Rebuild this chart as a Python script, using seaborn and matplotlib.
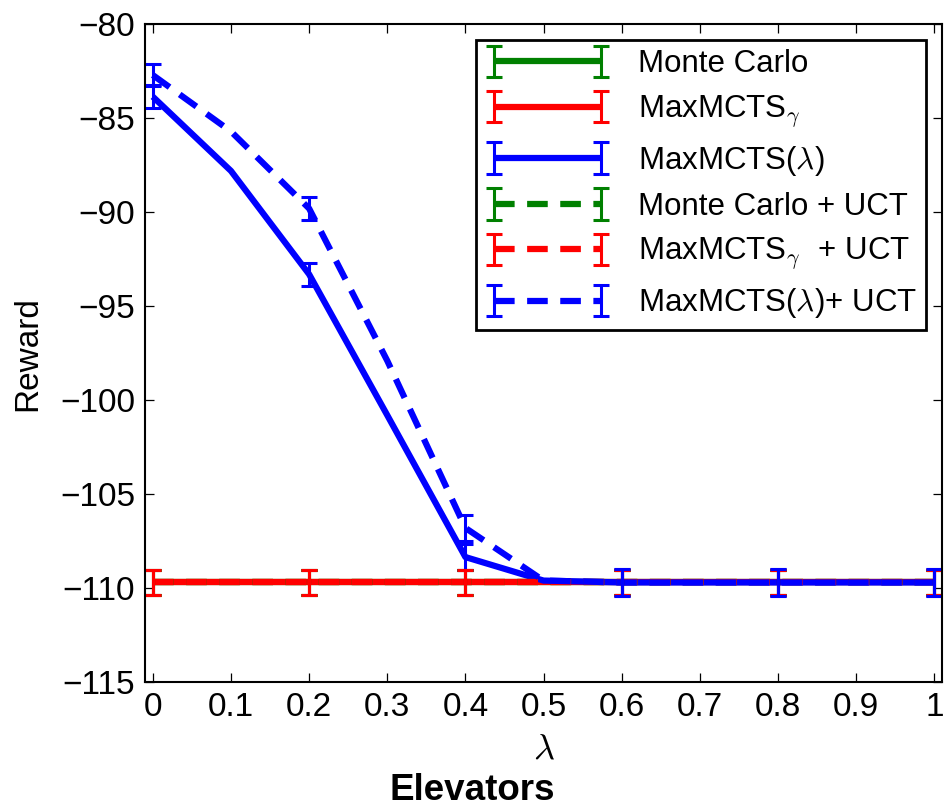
import matplotlib
matplotlib.use("Agg")
import matplotlib.pyplot as plt
from matplotlib.legend_handler import HandlerTuple
import pandas as pd
import seaborn as sns

# lambda grid and its tick labels
lam = [0.0, 0.1, 0.2, 0.3, 0.4, 0.5, 0.6, 0.7, 0.8, 0.9, 1.0]
xtick_labels = ["0", "0.1", "0.2", "0.3", "0.4", "0.5", "0.6", "0.7", "0.8", "0.9", "1"]
ytick_values = [-115, -110, -105, -100, -95, -90, -85, -80]

series_names = [
    "Monte Carlo",
    r"MaxMCTS$_\gamma$",
    r"MaxMCTS($\lambda$)",
    "Monte Carlo + UCT",
    r"MaxMCTS$_\gamma$  + UCT",
    r"MaxMCTS($\lambda$)+ UCT",
]
series_colors = ["#008000", "#ff0000", "#0000ff", "#008000", "#ff0000", "#0000ff"]
series_uct = ["plain", "plain", "plain", "uct", "uct", "uct"]

# mean reward per lambda
monte_carlo = [-109.7, -109.7, -109.7, -109.7, -109.7, -109.7, -109.7, -109.7, -109.7, -109.7, -109.7]
maxmcts_gamma = [-109.7, -109.7, -109.7, -109.7, -109.7, -109.7, -109.7, -109.7, -109.7, -109.7, -109.7]
maxmcts_lambda = [-83.85, -87.8, -93.3, -100.8, -108.35, -109.6, -109.7, -109.7, -109.7, -109.7, -109.7]
monte_carlo_uct = [-109.7, -109.7, -109.7, -109.7, -109.7, -109.7, -109.7, -109.7, -109.7, -109.7, -109.7]
maxmcts_gamma_uct = [-109.7, -109.7, -109.7, -109.7, -109.7, -109.7, -109.7, -109.7, -109.7, -109.7, -109.7]
maxmcts_lambda_uct = [-82.7, -85.7, -89.8, -97.9, -106.8, -109.6, -109.7, -109.7, -109.7, -109.7, -109.7]

# standard error per lambda
monte_carlo_err = [0.68, 0.68, 0.68, 0.68, 0.68, 0.68, 0.68, 0.68, 0.68, 0.68, 0.68]
maxmcts_gamma_err = [0.68, 0.68, 0.68, 0.68, 0.68, 0.68, 0.68, 0.68, 0.68, 0.68, 0.68]
maxmcts_lambda_err = [0.61, 0.6, 0.61, 0.65, 0.68, 0.7, 0.72, 0.7, 0.72, 0.7, 0.72]
monte_carlo_uct_err = [0.68, 0.68, 0.68, 0.68, 0.68, 0.68, 0.68, 0.68, 0.68, 0.68, 0.68]
maxmcts_gamma_uct_err = [0.68, 0.68, 0.68, 0.68, 0.68, 0.68, 0.68, 0.68, 0.68, 0.68, 0.68]
maxmcts_lambda_uct_err = [0.59, 0.6, 0.59, 0.65, 0.68, 0.7, 0.72, 0.7, 0.72, 0.7, 0.72]

means = [monte_carlo, maxmcts_gamma, maxmcts_lambda,
         monte_carlo_uct, maxmcts_gamma_uct, maxmcts_lambda_uct]
errs = [monte_carlo_err, maxmcts_gamma_err, maxmcts_lambda_err,
        monte_carlo_uct_err, maxmcts_gamma_uct_err, maxmcts_lambda_uct_err]

frames = []
for name, uct, m in zip(series_names, series_uct, means):
    frames.append(pd.DataFrame({"lam": lam, "reward": m, "series": name, "uct": uct}))
df = pd.concat(frames, ignore_index=True)

sns.set_style("ticks")
plt.rcParams.update({
    "font.family": ["Liberation Sans", "DejaVu Sans"],
    "mathtext.fontset": "cm",
    "axes.edgecolor": "black",
    "axes.linewidth": 1.5,
    "axes.labelcolor": "black",
    "text.color": "black",
    "xtick.direction": "in",
    "ytick.direction": "in",
    "xtick.top": True,
    "ytick.right": True,
    "xtick.major.size": 6.5,
    "ytick.major.size": 6.5,
    "xtick.major.width": 0.9,
    "ytick.major.width": 0.9,
    "xtick.color": "black",
    "ytick.color": "black",
    "xtick.labelsize": 24,
    "ytick.labelsize": 24,
    "xtick.major.pad": 7,
    "ytick.major.pad": 7,
    "lines.solid_capstyle": "butt",
})

fig = plt.figure(figsize=(9.44, 8.11), dpi=100)
ax = fig.add_axes([0.1536, 0.159, 0.998 - 0.1536, 0.970 - 0.159])

palette = dict(zip(series_names, series_colors))
sns.lineplot(
    data=df, x="lam", y="reward",
    hue="series", hue_order=series_names, palette=palette,
    style="uct", style_order=["plain", "uct"],
    dashes={"plain": "", "uct": (3.3, 2.0)},
    linewidth=4.5, errorbar=None, sort=False, legend=False, ax=ax,
)
lines = list(ax.lines)

containers = []
for m, e, c in zip(means, errs, series_colors):
    eb = ax.errorbar(lam, m, yerr=e, fmt="none", ecolor=c, errorevery=2,
                     capsize=6, elinewidth=2.2, capthick=2.2)
    containers.append(eb)

ax.set_xlim(-0.01, 1.01)
ax.set_ylim(-115, -80)
ax.set_xticks(lam)
ax.set_xticklabels(xtick_labels)
ax.set_yticks(ytick_values)
ax.set_xlabel(r"$\lambda$", fontsize=26, labelpad=6)
ax.set_ylabel("Reward", fontsize=24, labelpad=12)

handles = [(ln, eb) for ln, eb in zip(lines, containers)]
leg = ax.legend(
    handles, series_names, loc="upper right", numpoints=2,
    handlelength=4, handletextpad=0.9, labelspacing=0.45,
    fontsize=22.5, frameon=True, fancybox=False, framealpha=1,
    edgecolor="black", borderaxespad=0.5, borderpad=0.3,
    handler_map={tuple: HandlerTuple(ndivide=1)},
)
leg.get_frame().set_linewidth(2)

fig.text(0.5, 1 - 790 / 811, "Elevators", ha="center", va="center",
         fontsize=26.5, fontweight="bold")

fig.savefig("out.png", dpi=100)
